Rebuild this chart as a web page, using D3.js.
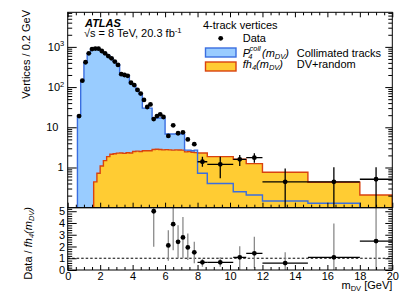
<!DOCTYPE html>
<html><head><meta charset="utf-8">
<script src="https://cdn.jsdelivr.net/npm/d3@7"></script>
<style>
body{margin:0;background:#fff}
svg{display:block}
text{font-family:"Liberation Sans",Arial,Helvetica,sans-serif;font-size:11px;fill:#000}
</style>
</head><body>
<svg id="c" width="415" height="298"></svg>
<script>
// ---------------- DATA ----------------
// P4coll(mDV) collimated-tracks template (bin edges in GeV, values per 0.2 GeV)
const blueEdges = [0.6,0.8,1.0,1.2,1.4,1.6,1.8,2.0,2.2,2.4,2.6,2.8,3.0,3.2,3.4,3.6,3.8,4.0,4.2,4.4,4.6,4.8,5.0,5.2,5.4,5.6,5.8,6.0,6.2,6.4,6.6,6.8,7.0,7.2,7.4,7.6,7.8,8.0,8.6,10.2,11.0,12.0,14.8,18.0];
const blueValues = [19,144,415,690,880,900,890,800,700,600,520,440,360,205,200,190,125,110,85,66,30,30,30,17,17,17,17,6.8,6.8,6.8,6.8,6.8,6.8,2.7,2.7,2.6,2.7,0.72,0.40,0.25,0.207,0.147,0.129];
// fh4(mDV) DV+random template
const orangeEdges = [1.6,1.8,2.0,2.2,2.4,2.6,2.8,3.0,3.2,3.4,3.6,3.8,4.0,4.2,4.4,4.6,4.8,5.0,5.2,5.4,5.6,5.8,6.0,6.2,6.4,6.6,6.8,7.0,7.2,7.4,7.6,7.8,8.0,8.6,10.2,11.0,12.0,14.8,18.0,20.0];
const orangeValues = [0.44,0.72,1.09,1.48,1.86,2.13,2.2,2.28,2.3,2.25,2.33,2.3,2.5,2.55,2.5,2.6,2.62,2.6,2.8,2.85,2.8,2.75,2.78,2.75,2.7,2.75,2.72,2.7,2.45,2.5,2.4,2.35,2.3,1.86,1.6,1.25,0.76,0.43,0.207];
// Data, fine bins
const dataX = [0.7,0.9,1.1,1.3,1.5,1.7,1.9,2.1,2.3,2.5,2.7,2.9,3.1,3.3,3.5,3.7,3.9,4.1,4.3,4.5,4.7,4.9,5.1,5.3,5.5,5.7,5.9,6.2,6.5,6.8,7.1,7.4,7.8];
const dataY = [19,144,415,690,880,905,900,790,690,590,520,430,355,210,200,190,128,112,85,69,48,32,37,16,19,21,18,6.1,11.2,7.1,7.5,5.0,3.8];
// Data, wide bins
const wideX   = [8.3,9.4,10.6,11.5,13.4,16.4,19.0];
const wideXLo = [8.0,8.6,10.2,11.0,12.0,14.8,18.0];
const wideXHi = [8.6,10.2,11.0,12.0,14.8,18.0,20.0];
const wideY   = [1.39,1.2,1.6,1.75,0.44,0.44,0.51];
const wideYLo = [1.05,0.54,1.09,1.32,0.05,0.05,0.05];
const wideYHi = [1.86,1.86,2.04,2.25,0.95,1.01,1.01];
// Ratio Data / fh4
const ratioX   = [5.3,6.2,6.5,6.8,7.1,7.4,7.8,8.3,9.4,10.6,11.5,13.4,16.4,19.0];
const ratioY   = [5.0,2.09,3.9,2.4,2.77,1.92,1.5,0.65,0.65,1.08,1.42,0.59,1.08,2.46];
const ratioLo  = [1.98,0.79,1.69,0.99,0.99,0.85,0.57,0.28,0.28,0.0,0.14,0.0,0.0,0.0];
const ratioHi  = [6,3.39,6,3.81,4.5,3.1,2.4,0.93,1.08,2.03,2.82,1.5,3.95,6];
const ratioXLo = [null,null,null,null,null,null,null,8.0,8.6,10.2,11.0,12.0,14.8,18.0];
const ratioXHi = [null,null,null,null,null,null,null,8.6,10.2,11.0,12.0,14.8,18.0,20.0];
// Axis ticks
const xMajor = [0,2,4,6,8,10,12,14,16,18,20];
const yMajor = [1,10,100,1000];
const rMajor = [0,1,2,3,4,5];

// ---------------- LAYOUT ----------------
const L=67.7, R=392.3, T=12.3, MB=207.7, RB=270;
const BLUE_FILL="#99ccff", BLUE_LINE="#3a6ee0", OR_FILL="#ffcc33", OR_LINE="#d9420f";

const svg = d3.select("#c");
const x = d3.scaleLinear().domain([0,20]).range([L,R]);
const y = d3.scaleLog().domain([0.1,7244]).range([MB,T]);
const yr = d3.scaleLinear().domain([0,5.3]).range([RB,MB]);

const defs = svg.append("defs");
defs.append("clipPath").attr("id","cm").append("rect").attr("x",L).attr("y",T).attr("width",R-L).attr("height",MB-T);
defs.append("clipPath").attr("id","cr").append("rect").attr("x",L).attr("y",MB).attr("width",R-L).attr("height",RB-MB);

const base = MB+3;
function histPts(edges, vals){
  const pts=[[edges[0],null]];
  vals.forEach((v,i)=>pts.push([edges[i],v]));
  pts.push([edges[edges.length-1],vals[vals.length-1]]);
  pts.push([edges[edges.length-1],null]);
  return pts;
}
const yy = v => (v==null||v<=0)? base : y(v);
const area = d3.area().curve(d3.curveStepAfter).x(d=>x(d[0])).y0(base).y1(d=>yy(d[1]));
const line = d3.line().curve(d3.curveStepAfter).x(d=>x(d[0])).y(d=>yy(d[1]));

const gm = svg.append("g").attr("clip-path","url(#cm)");
const bp = histPts(blueEdges, blueValues), op = histPts(orangeEdges, orangeValues);
gm.append("path").attr("d",area(bp)).attr("fill",BLUE_FILL);
gm.append("path").attr("d",area(op)).attr("fill",OR_FILL);
gm.append("path").attr("d",line(op)).attr("fill","none").attr("stroke",OR_LINE).attr("stroke-width",1.4);
gm.append("path").attr("d",line(bp)).attr("fill","none").attr("stroke",BLUE_LINE).attr("stroke-width",1.4);

// wide-bin data error bars
wideX.forEach((xv,i)=>{
  gm.append("line").attr("x1",x(wideXLo[i])).attr("x2",x(wideXHi[i])).attr("y1",y(wideY[i])).attr("y2",y(wideY[i])).attr("stroke","#000").attr("stroke-width",1.3);
  gm.append("line").attr("x1",x(xv)).attr("x2",x(xv)).attr("y1",yy(wideYLo[i])).attr("y2",y(wideYHi[i])).attr("stroke","#000").attr("stroke-width",1.3);
});
gm.selectAll("circle.d").data(dataX.map((v,i)=>[v,dataY[i]]).concat(wideX.map((v,i)=>[v,wideY[i]])))
  .enter().append("circle").attr("cx",d=>x(d[0])).attr("cy",d=>y(d[1])).attr("r",2.4).attr("fill","#000");

// ratio panel
const gr = svg.append("g").attr("clip-path","url(#cr)");
gr.append("line").attr("x1",L).attr("x2",R).attr("y1",yr(1)).attr("y2",yr(1)).attr("stroke","#000").attr("stroke-width",1).attr("stroke-dasharray","2.5,2");
ratioX.forEach((xv,i)=>{
  gr.append("line").attr("x1",x(xv)).attr("x2",x(xv)).attr("y1",yr(ratioLo[i])).attr("y2",yr(ratioHi[i])).attr("stroke","#8a8a8a").attr("stroke-width",1.3);
  if(ratioXLo[i]!=null) gr.append("line").attr("x1",x(ratioXLo[i])).attr("x2",x(ratioXHi[i])).attr("y1",yr(ratioY[i])).attr("y2",yr(ratioY[i])).attr("stroke","#000").attr("stroke-width",1.3);
});
gr.selectAll("circle").data(ratioX.map((v,i)=>[v,ratioY[i]])).enter().append("circle")
  .attr("cx",d=>x(d[0])).attr("cy",d=>yr(d[1])).attr("r",2.4).attr("fill","#000");

// ---------------- AXES ----------------
function clean(g){ g.select(".domain").remove(); g.selectAll(".tick line").attr("stroke","#000").attr("stroke-width",1); return g; }
const xMinor = d3.range(0.5,20,0.5).filter(v=>v%2!==0);
const yMinor = [];
[0.1,1,10,100,1000].forEach(dd=>{ for(let k=2;k<=9;k++){ const v=k*dd; if(v<7244) yMinor.push(v);} });
const rMinor = d3.range(0.2,5.3,0.2).filter(v=>Math.abs(v-Math.round(v))>1e-6);

// main x ticks (bottom & top), no labels
clean(svg.append("g").attr("transform",`translate(0,${MB})`).call(d3.axisBottom(x).tickValues(xMajor).tickSizeInner(-5).tickSizeOuter(0).tickFormat("")));
clean(svg.append("g").attr("transform",`translate(0,${MB})`).call(d3.axisBottom(x).tickValues(xMinor).tickSizeInner(-3).tickSizeOuter(0).tickFormat("")));
clean(svg.append("g").attr("transform",`translate(0,${T})`).call(d3.axisTop(x).tickValues(xMajor).tickSizeInner(-5).tickSizeOuter(0).tickFormat("")));
clean(svg.append("g").attr("transform",`translate(0,${T})`).call(d3.axisTop(x).tickValues(xMinor).tickSizeInner(-3).tickSizeOuter(0).tickFormat("")));
// ratio x axis with labels
const ax = clean(svg.append("g").attr("transform",`translate(0,${RB})`).call(d3.axisBottom(x).tickValues(xMajor).tickSizeInner(-5).tickSizeOuter(0).tickPadding(2.5).tickFormat(d3.format("d"))));
ax.selectAll("text").attr("font-size",11).attr("fill","#000");
clean(svg.append("g").attr("transform",`translate(0,${RB})`).call(d3.axisBottom(x).tickValues(xMinor).tickSizeInner(-3).tickSizeOuter(0).tickFormat("")));

// main y
clean(svg.append("g").attr("transform",`translate(${L},0)`).call(d3.axisLeft(y).tickValues(yMajor).tickSizeInner(-9).tickSizeOuter(0).tickFormat("")));
clean(svg.append("g").attr("transform",`translate(${L},0)`).call(d3.axisLeft(y).tickValues(yMinor).tickSizeInner(-4.5).tickSizeOuter(0).tickFormat("")));
clean(svg.append("g").attr("transform",`translate(${R},0)`).call(d3.axisRight(y).tickValues(yMajor).tickSizeInner(-7).tickSizeOuter(0).tickFormat("")));
clean(svg.append("g").attr("transform",`translate(${R},0)`).call(d3.axisRight(y).tickValues(yMinor).tickSizeInner(-4).tickSizeOuter(0).tickFormat("")));
// main y labels
yMajor.forEach(v=>{
  const e = Math.round(Math.log10(v));
  const t = svg.append("text").attr("y",y(v)).attr("dy","0.36em").attr("text-anchor","end");
  if(e===0){ t.attr("x",L-4).text("1"); }
  else if(e===1){ t.attr("x",L-9.3).text("10"); }
  else { t.attr("x",L-3.5); t.append("tspan").text("10"); t.append("tspan").attr("font-size",7.5).attr("dy",-4.5).text(String(e)); }
});

// ratio y
const ay = clean(svg.append("g").attr("transform",`translate(${L},0)`).call(d3.axisLeft(yr).tickValues(rMajor).tickSizeInner(-9).tickSizeOuter(0).tickPadding(2.5).tickFormat(d3.format("d"))));
ay.selectAll("text").attr("font-size",11).attr("fill","#000");
clean(svg.append("g").attr("transform",`translate(${L},0)`).call(d3.axisLeft(yr).tickValues(rMinor).tickSizeInner(-4.5).tickSizeOuter(0).tickFormat("")));
clean(svg.append("g").attr("transform",`translate(${R},0)`).call(d3.axisRight(yr).tickValues(rMajor).tickSizeInner(-7).tickSizeOuter(0).tickFormat("")));
clean(svg.append("g").attr("transform",`translate(${R},0)`).call(d3.axisRight(yr).tickValues(rMinor).tickSizeInner(-4).tickSizeOuter(0).tickFormat("")));

// frames
svg.append("rect").attr("x",L).attr("y",T).attr("width",R-L).attr("height",MB-T).attr("fill","none").attr("stroke","#000").attr("stroke-width",1);
svg.append("rect").attr("x",L).attr("y",MB).attr("width",R-L).attr("height",RB-MB).attr("fill","none").attr("stroke","#000").attr("stroke-width",1);

// ---------------- TEXT ----------------
svg.append("text").attr("x",85).attr("y",27.3).attr("font-weight","bold").attr("font-style","italic").text("ATLAS");
const s = svg.append("text").attr("x",84).attr("y",37).attr("font-size",11.5);
s.append("tspan").text("\u221As = 8 TeV, 20.3 fb");
s.append("tspan").attr("font-size",7.8).attr("dy",-4.5).text("-1");

svg.append("text").attr("x",203).attr("y",28.5).text("4-track vertices");
svg.append("circle").attr("cx",220.7).attr("cy",38.3).attr("r",2.4).attr("fill","#000");
svg.append("text").attr("x",242.7).attr("y",42).text("Data");
svg.append("rect").attr("x",205.5).attr("y",48).attr("width",30.5).attr("height",9).attr("fill",BLUE_FILL).attr("stroke",BLUE_LINE).attr("stroke-width",1.4);
svg.append("rect").attr("x",205.5).attr("y",62).attr("width",30.5).attr("height",9).attr("fill",OR_FILL).attr("stroke",OR_LINE).attr("stroke-width",1.4);

const l1 = svg.append("text").attr("y",57);
l1.append("tspan").attr("x",242.7).attr("font-style","italic").text("P");
l1.append("tspan").attr("x",248.3).attr("dy",2.3).attr("font-size",7.5).attr("font-style","italic").text("4");
l1.append("tspan").attr("x",249.5).attr("dy",-8.8).attr("font-size",7.5).attr("font-style","italic").text("coll");
l1.append("tspan").attr("x",262).attr("dy",6.5).attr("font-style","italic").text("(m");
l1.append("tspan").attr("dy",2.3).attr("font-size",7.5).attr("font-style","italic").text("DV");
l1.append("tspan").attr("dy",-2.3).attr("font-style","italic").text(")");
svg.append("text").attr("x",296.7).attr("y",57).text("Collimated tracks");

const l2 = svg.append("text").attr("y",67.5);
l2.append("tspan").attr("x",242.7).attr("font-style","italic").text("fh");
l2.append("tspan").attr("dy",2.3).attr("font-size",7.5).attr("font-style","italic").text("4");
l2.append("tspan").attr("dy",-2.3).attr("font-style","italic").text("(m");
l2.append("tspan").attr("dy",2.3).attr("font-size",7.5).attr("font-style","italic").text("DV");
l2.append("tspan").attr("dy",-2.3).attr("font-style","italic").text(")");
svg.append("text").attr("x",296.7).attr("y",67.5).text("DV+random");

// axis titles
const xt = svg.append("text").attr("x",R).attr("y",288.5).attr("text-anchor","end");
xt.append("tspan").text("m");
xt.append("tspan").attr("font-size",7.5).attr("dy",2.5).text("DV");
xt.append("tspan").attr("dy",-2.5).text(" [GeV]");

svg.append("text").attr("transform",`translate(29.5,10) rotate(-90)`).attr("text-anchor","end").attr("font-size",11.3).text("Vertices / 0.2 GeV");
const rt = svg.append("text").attr("transform",`translate(31.5,207) rotate(-90)`).attr("text-anchor","end");
rt.append("tspan").text("Data / ");
rt.append("tspan").attr("font-style","italic").text("fh");
rt.append("tspan").attr("font-style","italic").attr("font-size",7.5).attr("dy",2.5).text("4");
rt.append("tspan").attr("font-style","italic").attr("dy",-2.5).text("(m");
rt.append("tspan").attr("font-style","italic").attr("font-size",7.5).attr("dy",2.5).text("DV");
rt.append("tspan").attr("font-style","italic").attr("dy",-2.5).text(")");
</script>
</body></html>
